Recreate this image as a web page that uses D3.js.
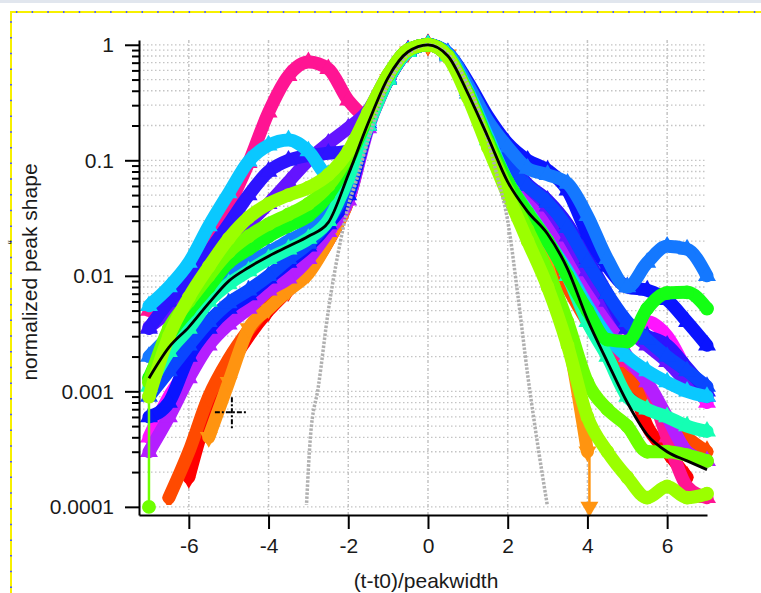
<!DOCTYPE html>
<html>
<head>
<meta charset="utf-8">
<script src="https://cdn.jsdelivr.net/npm/d3@7"></script>
<style>
  body { margin: 0; background: #fff; overflow: hidden; }
  svg { display: block; }
  text { font-family: "Liberation Sans", Arial, sans-serif; fill: #1a1a1a; }
</style>
</head>
<body>
<div id="chart"></div>
<script>
// x positions (t-t0)/peakwidth shared by every coloured trace
const xs = [-7, -6.5, -6, -5.5, -5, -4.5, -4, -3.5, -3, -2.5, -2, -1.5, -1, -0.5, 0,
            0.5, 1, 1.5, 2, 2.5, 3, 3.5, 4, 4.5, 5, 5.5, 6, 6.5, 7];

const red         = [null, null, 0.00018, 0.0007, 0.0016, 0.003, 0.005, 0.0075, 0.011, 0.02, 0.045, 0.2, 0.5, 0.88, 1, 0.82, 0.4, 0.16, 0.07, 0.034, 0.018, 0.009, 0.0045, 0.0025, 0.0015, 0.0005, 0.0003, 0.00018, null];
const orangeRed   = [null, 0.00012, 0.0003, 0.0009, 0.0019, 0.0034, 0.0055, 0.008, 0.012, 0.022, 0.05, 0.21, 0.52, 0.88, 1, 0.8, 0.38, 0.15, 0.065, 0.032, 0.017, 0.008, 0.004, 0.0022, 0.0013, 0.0009, 0.0006, 0.0004, 0.0003];
const orange      = [null, null, null, 0.0004, 0.0012, 0.0035, 0.0052, 0.0075, 0.0105, 0.02, 0.045, 0.2, 0.5, 0.87, 1, 0.82, 0.38, 0.15, 0.065, 0.03, 0.012, 0.003, 0.0003, null, null, null, null, null, null];
const pink        = [0.005, 0.0068, 0.009, 0.018, 0.04, 0.095, 0.26, 0.54, 0.71, 0.62, 0.33, 0.24, 0.5, 0.88, 1, 0.82, 0.4, 0.17, 0.08, 0.045, 0.025, 0.013, 0.006, 0.003, 0.0018, 0.0012, 0.0004, 0.00015, 0.00012];
const magenta     = [0.0004, 0.0009, 0.0016, 0.003, 0.0045, 0.0062, 0.0085, 0.012, 0.016, 0.026, 0.055, 0.21, 0.5, 0.87, 1, 0.8, 0.38, 0.16, 0.075, 0.045, 0.028, 0.015, 0.008, 0.0045, 0.0035, 0.004, 0.003, 0.0015, 0.0008];
const purple      = [0.0003, 0.0006, 0.0013, 0.0025, 0.0038, 0.0052, 0.0075, 0.0095, 0.014, 0.024, 0.045, 0.19, 0.5, 0.87, 1, 0.8, 0.4, 0.17, 0.08, 0.048, 0.03, 0.016, 0.008, 0.004, 0.002, 0.0012, 0.0006, 0.0003, 0.00025];
const violet      = [0.0036, 0.005, 0.008, 0.012, 0.018, 0.028, 0.042, 0.065, 0.1, 0.14, 0.19, 0.27, 0.55, 0.9, 1, 0.82, 0.42, 0.19, 0.1, 0.06, 0.04, 0.022, 0.011, 0.006, 0.0035, 0.0025, 0.0018, 0.0012, 0.0009];
const blue        = [0.0035, 0.006, 0.009, 0.016, 0.028, 0.05, 0.08, 0.1, 0.11, 0.115, 0.12, 0.24, 0.52, 0.88, 1, 0.82, 0.42, 0.19, 0.1, 0.062, 0.045, 0.028, 0.014, 0.007, 0.0035, 0.003, 0.0025, 0.0016, 0.001];
const darkBlue    = [0.0006, 0.0008, 0.002, 0.0035, 0.0052, 0.0068, 0.0095, 0.013, 0.018, 0.028, 0.05, 0.2, 0.5, 0.88, 1, 0.85, 0.48, 0.24, 0.14, 0.1, 0.082, 0.055, 0.023, 0.012, 0.008, 0.0075, 0.0062, 0.004, 0.0025];
const royalBlue   = [0.0009, 0.0015, 0.0025, 0.004, 0.0058, 0.0075, 0.01, 0.014, 0.019, 0.03, 0.06, 0.21, 0.5, 0.87, 1, 0.82, 0.42, 0.19, 0.09, 0.06, 0.043, 0.026, 0.013, 0.007, 0.004, 0.0028, 0.002, 0.0015, 0.0011];
const dodgerBlue  = [0.002, 0.003, 0.0045, 0.007, 0.01, 0.013, 0.016, 0.02, 0.025, 0.035, 0.065, 0.2, 0.5, 0.87, 1, 0.85, 0.45, 0.22, 0.13, 0.085, 0.075, 0.063, 0.033, 0.014, 0.008, 0.013, 0.018, 0.017, 0.01];
const cyan        = [0.0055, 0.008, 0.013, 0.027, 0.052, 0.098, 0.135, 0.15, 0.12, 0.075, 0.09, 0.22, 0.52, 0.88, 1, 0.82, 0.4, 0.16, 0.065, 0.035, 0.02, 0.011, 0.0055, 0.003, 0.002, 0.0015, 0.0012, 0.001, 0.0009];
const aqua        = [0.0011, 0.0022, 0.0035, 0.006, 0.0085, 0.011, 0.014, 0.017, 0.021, 0.03, 0.07, 0.2, 0.5, 0.87, 1, 0.8, 0.38, 0.15, 0.065, 0.036, 0.02, 0.01, 0.004, 0.002, 0.0009, 0.0007, 0.0006, 0.0005, 0.00045];
const green       = [0.0013, 0.003, 0.005, 0.008, 0.013, 0.017, 0.022, 0.027, 0.033, 0.05, 0.1, 0.24, 0.54, 0.9, 1, 0.8, 0.38, 0.15, 0.065, 0.035, 0.02, 0.01, 0.005, 0.0028, 0.0027, 0.0052, 0.0071, 0.0072, 0.0052];
const lime        = [0.0012, 0.0035, 0.006, 0.01, 0.016, 0.022, 0.028, 0.034, 0.042, 0.06, 0.11, 0.25, 0.55, 0.9, 1, 0.8, 0.37, 0.14, 0.055, 0.025, 0.011, 0.004, 0.0012, 0.0007, 0.0005, 0.0003, 0.0003, 0.00028, 0.00025];
const yellowGreen = [0.0009, 0.003, 0.0065, 0.012, 0.021, 0.032, 0.042, 0.05, 0.058, 0.075, 0.12, 0.26, 0.55, 0.9, 1, 0.78, 0.35, 0.13, 0.05, 0.02, 0.008, 0.0025, 0.0006, 0.0003, 0.00018, 0.00012, 0.00015, 0.00012, 0.00013];

// average shape (black)
const meanShape   = [0.0013, 0.0024, 0.0036, 0.0058, 0.009, 0.0118, 0.0148, 0.018, 0.022, 0.029, 0.075, 0.21, 0.52, 0.87, 1, 0.8, 0.38, 0.16, 0.065, 0.036, 0.023, 0.0115, 0.0042, 0.0018, 0.0008, 0.00042, 0.0003, 0.00025, 0.00021];

// reference gaussian (grey dotted)
const gaussX = [-3.05, -2.95, -2.75, -2.5, -2.25, -2, -1.75, -1.5, -1.25, -1, -0.75, -0.5, -0.25, 0,
                0.25, 0.5, 0.75, 1, 1.25, 1.5, 1.75, 2, 2.25, 2.5, 2.75, 3];
const gaussY = [0.0001, 0.0004, 0.0011, 0.005, 0.016, 0.04, 0.075, 0.15, 0.28, 0.45, 0.65, 0.83, 0.95, 1,
                0.95, 0.83, 0.65, 0.45, 0.28, 0.15, 0.07, 0.03, 0.007, 0.0014, 0.00035, 0.0001];

// traces that fall to zero (off the log axis) at one end
const dropTraces = [
  { name: "orange", x: 4.05, from: 0.0003 },
  { name: "lime",   x: -7,   from: 0.0012 }
];

const xTicks = [-6, -4, -2, 0, 2, 4, 6];
const xTickLabels = ["-6", "-4", "-2", "0", "2", "4", "6"];
const yTicks = [1, 0.1, 0.01, 0.001, 0.0001];
const yTickLabels = ["1", "0.1", "0.01", "0.001", "0.0001"];

const traces = [
  { name: "red",         values: red,         color: "#ff0000", shape: "diamond" },
  { name: "orangeRed",   values: orangeRed,   color: "#ff4a00", shape: "diamond" },
  { name: "orange",      values: orange,      color: "#ff9410", shape: "down" },
  { name: "pink",        values: pink,        color: "#ff1493", shape: "up" },
  { name: "magenta",     values: magenta,     color: "#ff14ff", shape: "up" },
  { name: "purple",      values: purple,      color: "#b41eff", shape: "up" },
  { name: "violet",      values: violet,      color: "#6414ff", shape: "up" },
  { name: "blue",        values: blue,        color: "#2d14ff", shape: "up" },
  { name: "darkBlue",    values: darkBlue,    color: "#0a14ff", shape: "up" },
  { name: "royalBlue",   values: royalBlue,   color: "#0a46ff", shape: "up" },
  { name: "dodgerBlue",  values: dodgerBlue,  color: "#1478ff", shape: "up" },
  { name: "cyan",        values: cyan,        color: "#0ac8ff", shape: "up" },
  { name: "aqua",        values: aqua,        color: "#14ffb4", shape: "up" },
  { name: "green",       values: green,       color: "#14ff14", shape: "circle" },
  { name: "lime",        values: lime,        color: "#6eff00", shape: "circle" },
  { name: "yellowGreen", values: yellowGreen, color: "#9bff00", shape: "circle" }
];

const width = 761, height = 593;
const margin = { top: 40, right: 54, bottom: 78, left: 139 };
const innerWidth = width - margin.left - margin.right;
const innerHeight = height - margin.top - margin.bottom;

const svg = d3.select("#chart")
  .append("svg")
    .attr("width", width)
    .attr("height", height)
    .attr("viewBox", [0, 0, width, height]);

// window chrome: grey strip and yellow selection border
svg.append("rect").attr("x", 0).attr("y", 0).attr("width", width).attr("height", 3).attr("fill", "#e1e6ee");
svg.append("path").attr("d", `M11,${height} V12 H${width}`)
  .attr("fill", "none").attr("stroke", "#f7f000").attr("stroke-width", 2);
svg.append("path").attr("d", `M11,${height} V12 H${width}`)
  .attr("fill", "none").attr("stroke", "#4a5cff").attr("stroke-width", 2)
  .attr("stroke-dasharray", "1.5,14.2").attr("stroke-dashoffset", -5);

const xScale = d3.scaleLinear()
  .domain([-7.25, 7])
  .range([0, innerWidth]);

const yScale = d3.scaleLog()
  .domain([8.5e-5, 1.1])
  .range([innerHeight, 0]);

const innerChart = svg.append("g")
  .attr("transform", `translate(${margin.left}, ${margin.top})`);

// minor decade ticks
const minorTicks = [];
yTicks.forEach(d => {
  for (let k = 2; k <= 9; k++) {
    const v = d * k;
    if (v <= 1.1 && v >= 8.5e-5) minorTicks.push(v);
  }
});
const allY = yTicks.concat(minorTicks);

// dotted grid
innerChart.append("g")
  .selectAll("line")
  .data(allY)
  .join("line")
    .attr("x1", 0).attr("x2", innerWidth)
    .attr("y1", d => yScale(d)).attr("y2", d => yScale(d))
    .attr("stroke", "#c4c4c4").attr("stroke-width", 1.3)
    .attr("stroke-dasharray", "1.5,2.5");

innerChart.append("g")
  .selectAll("line")
  .data(xTicks)
  .join("line")
    .attr("x1", d => xScale(d)).attr("x2", d => xScale(d))
    .attr("y1", 0).attr("y2", innerHeight)
    .attr("stroke", "#c4c4c4").attr("stroke-width", 1.5)
    .attr("stroke-dasharray", "3,2,1,2");

svg.append("defs").append("clipPath").attr("id", "plotClip")
  .append("rect").attr("x", -4).attr("y", -14).attr("width", innerWidth + 14).attr("height", innerHeight + 4);

const plot = innerChart.append("g").attr("clip-path", "url(#plotClip)");

const lineGen = d3.line()
  .x(d => xScale(d.x))
  .y(d => yScale(d.v))
  .curve(d3.curveMonotoneX);

const symbolFor = {
  up: d3.symbol(d3.symbolTriangle, 140)(),
  down: d3.symbol(d3.symbolTriangle, 140)(),
  diamond: d3.symbol(d3.symbolDiamond, 150)(),
  circle: d3.symbol(d3.symbolCircle, 150)()
};
const markerTransform = (shape, x, y) =>
  `translate(${x},${y})${shape === "down" ? " rotate(180)" : ""}`;

traces.forEach(t => {
  const pts = xs.map((x, i) => ({ x, v: t.values[i] })).filter(d => d.v != null);
  plot.append("path")
    .datum(pts)
    .attr("d", lineGen)
    .attr("fill", "none")
    .attr("stroke", t.color)
    .attr("stroke-width", 13)
    .attr("stroke-linejoin", "round")
    .attr("stroke-linecap", "round");
  plot.append("g")
    .selectAll("path")
    .data(pts)
    .join("path")
      .attr("d", symbolFor[t.shape])
      .attr("transform", d => markerTransform(t.shape, xScale(d.x), yScale(d.v)))
      .attr("fill", t.color);

  dropTraces.filter(dr => dr.name === t.name).forEach(dr => {
    const px = xScale(dr.x);
    plot.append("line")
      .attr("x1", px).attr("x2", px)
      .attr("y1", yScale(dr.from)).attr("y2", yScale(0.0001))
      .attr("stroke", t.color).attr("stroke-width", 2.5);
    innerChart.append("path")
      .attr("d", symbolFor[t.shape])
      .attr("transform", markerTransform(t.shape, px, yScale(0.0001)))
      .attr("fill", t.color);
  });
});

// grey gaussian
const gaussPts = gaussX.map((x, i) => ({ x, v: gaussY[i] }));
plot.append("path")
  .datum(gaussPts)
  .attr("d", lineGen)
  .attr("fill", "none")
  .attr("stroke", "#b0b0b0")
  .attr("stroke-width", 3.5)
  .attr("stroke-dasharray", "2.5,1.5");

// mean shape
const meanPts = xs.map((x, i) => ({ x, v: meanShape[i] }));
plot.append("path")
  .datum(meanPts)
  .attr("d", lineGen)
  .attr("fill", "none")
  .attr("stroke", "#000")
  .attr("stroke-width", 2.8)
  .attr("stroke-linejoin", "round");

// axes
const bottomAxis = d3.axisBottom(xScale)
  .tickValues(xTicks)
  .tickFormat((d, i) => xTickLabels[i])
  .tickSize(14)
  .tickPadding(9)
  .tickSizeOuter(0);

const xAxisG = innerChart.append("g")
  .attr("transform", `translate(0, ${innerHeight})`)
  .call(bottomAxis);

const leftAxis = d3.axisLeft(yScale)
  .tickValues(yTicks)
  .tickFormat((d, i) => yTickLabels[i])
  .tickSize(14)
  .tickPadding(11)
  .tickSizeOuter(0);

const yAxisG = innerChart.append("g").call(leftAxis);

innerChart.append("g")
  .call(d3.axisLeft(yScale).tickValues(minorTicks).tickFormat("").tickSize(7).tickSizeOuter(0))
  .select(".domain").remove();

[xAxisG, yAxisG].forEach(a => {
  a.selectAll("path, line").attr("stroke", "#000").attr("stroke-width", 2);
  a.selectAll("text").attr("font-size", 21).attr("fill", "#1a1a1a");
});
innerChart.selectAll(".tick line").attr("stroke", "#000").attr("stroke-width", 2);

// axis titles
svg.append("text")
  .attr("x", 426).attr("y", 580)
  .attr("text-anchor", "middle")
  .attr("dominant-baseline", "central")
  .attr("font-size", 21)
  .text("(t-t0)/peakwidth");

svg.append("text")
  .attr("transform", "translate(29, 272) rotate(-90)")
  .attr("text-anchor", "middle")
  .attr("dominant-baseline", "central")
  .attr("font-size", 21)
  .text("normalized peak shape");

svg.append("text")
  .attr("transform", "translate(12, 242) rotate(-90)")
  .attr("text-anchor", "middle")
  .attr("dominant-baseline", "central")
  .attr("font-size", 13)
  .text("\u201c");

// data cursor
const cx = margin.left + xScale(-4.92), cy = margin.top + yScale(0.00066);
const cursor = svg.append("g").attr("stroke", "#000").attr("stroke-width", 2).attr("stroke-dasharray", "5,2,2,2");
cursor.append("line").attr("x1", cx - 17).attr("x2", cx + 16).attr("y1", cy).attr("y2", cy);
cursor.append("line").attr("x1", cx).attr("x2", cx).attr("y1", cy - 15).attr("y2", cy + 18);
</script>
</body>
</html>
